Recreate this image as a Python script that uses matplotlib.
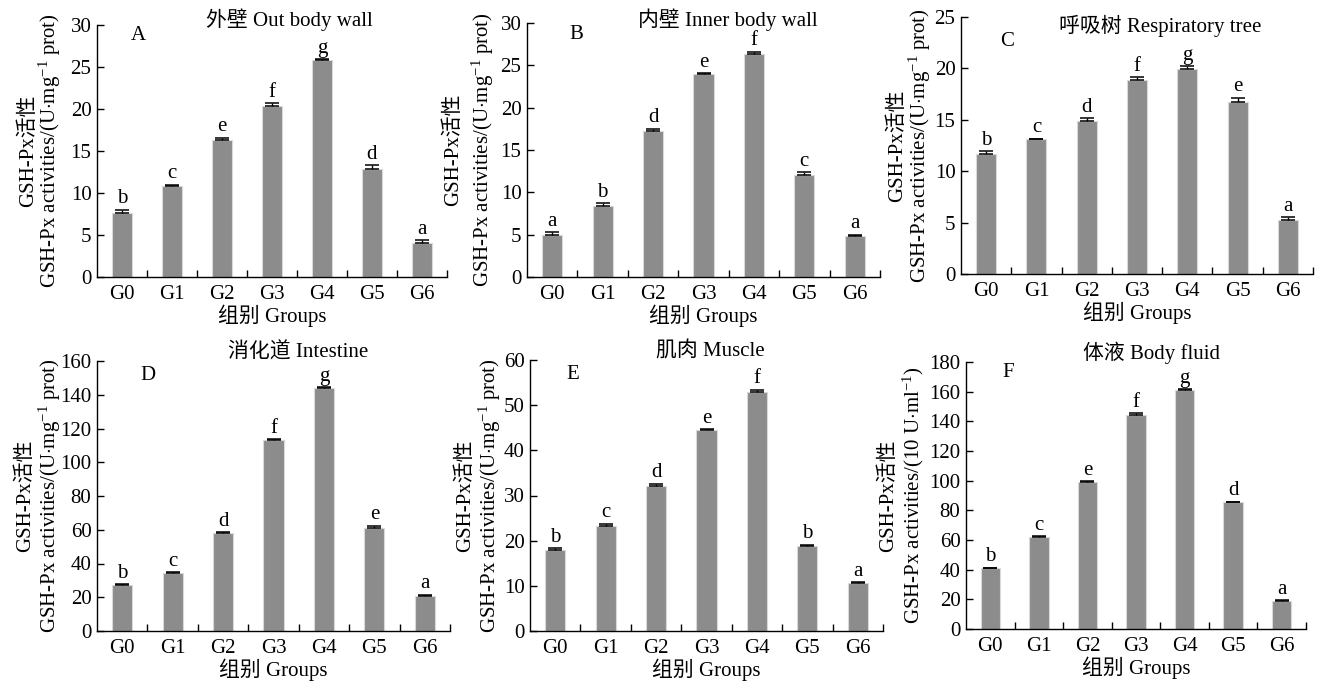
import matplotlib
matplotlib.use("Agg")
import matplotlib.pyplot as plt
import matplotlib.transforms as mtransforms
import numpy as np

plt.rcParams['font.family'] = ['Liberation Serif', 'Noto Sans CJK SC']
plt.rcParams['mathtext.fontset'] = 'custom'
plt.rcParams['mathtext.rm'] = 'Liberation Serif'
plt.rcParams['mathtext.it'] = 'Liberation Serif:italic'
plt.rcParams['axes.unicode_minus'] = False

groups = ['G0', 'G1', 'G2', 'G3', 'G4', 'G5', 'G6']

# values
out_wall = [7.6, 10.8, 16.3, 20.3, 25.8, 12.9, 4.1]
out_wall_err = [0.4, 0.2, 0.3, 0.4, 0.1, 0.4, 0.3]
out_wall_sig = ['b', 'c', 'e', 'f', 'g', 'd', 'a']

inner_wall = [5.0, 8.4, 17.2, 24.0, 26.3, 12.0, 4.9]
inner_wall_err = [0.3, 0.3, 0.3, 0.1, 0.3, 0.4, 0.1]
inner_wall_sig = ['a', 'b', 'd', 'e', 'f', 'c', 'a']

resp_tree = [11.7, 13.1, 14.9, 18.85, 19.9, 16.75, 5.3]
resp_tree_err = [0.25, 0.07, 0.25, 0.3, 0.3, 0.4, 0.2]
resp_tree_sig = ['b', 'c', 'd', 'f', 'g', 'e', 'a']

intestine = [27.0, 34.3, 58.0, 113.0, 143.8, 61.0, 20.8]
intestine_err = [0.8, 0.6, 0.6, 0.6, 0.5, 1.5, 0.6]
intestine_sig = ['b', 'c', 'd', 'f', 'g', 'e', 'a']

muscle = [18.0, 23.3, 32.2, 44.5, 53.0, 18.9, 10.6]
muscle_err = [0.3, 0.5, 0.45, 0.2, 0.45, 0.2, 0.2]
muscle_sig = ['b', 'c', 'd', 'e', 'f', 'b', 'a']

body_fluid = [40.9, 62.2, 99.2, 144.6, 161.3, 85.3, 18.9]
body_fluid_err = [0.5, 0.5, 0.5, 0.7, 0.5, 0.5, 0.5]
body_fluid_sig = ['b', 'c', 'e', 'f', 'g', 'd', 'a']

titles = ['外壁 Out body wall', '内壁 Inner body wall', '呼吸树 Respiratory tree',
          '消化道 Intestine', '肌肉 Muscle', '体液 Body fluid']
letters = ['A', 'B', 'C', 'D', 'E', 'F']
unit_mg = r'GSH-Px activities/(U$\cdot$mg$^{-1}$ prot)'
unit_ml = r'GSH-Px activities/(10 U$\cdot$ml$^{-1}$)'
units = [unit_mg, unit_mg, unit_mg, unit_mg, unit_mg, unit_ml]
y_max = [30, 30, 25, 160, 60, 180]
y_step = [5, 5, 5, 20, 10, 20]

panels = [
    (out_wall, out_wall_err, out_wall_sig),
    (inner_wall, inner_wall_err, inner_wall_sig),
    (resp_tree, resp_tree_err, resp_tree_sig),
    (intestine, intestine_err, intestine_sig),
    (muscle, muscle_err, muscle_sig),
    (body_fluid, body_fluid_err, body_fluid_sig),
]

W, H = 1322, 684
# axes boxes in pixels: left, top, right, bottom
boxes = [(97, 25, 447, 277), (527, 23, 880, 277), (961, 17, 1313, 274),
         (97, 361, 450, 631), (530, 360, 883, 631), (966, 362, 1306, 629)]
title_pos = [(0.55, 1.02), (0.57, 1.012), (0.565, 0.965),
             (0.57, 1.03), (0.51, 1.03), (0.547, 1.035)]
letter_pos = [(0.117, 0.96), (0.139, 0.953), (0.13, 0.903),
              (0.145, 0.948), (0.12, 0.948), (0.124, 0.959)]
ylab_dx = [(-69, -47), (-74, -44), (-64, -41), (-72, -47), (-65, -40), (-78, -53)]

fig = plt.figure(figsize=(W / 100, H / 100), dpi=100)
fs = 15
x = np.arange(len(groups))

for i, (vals, errs, sig) in enumerate(panels):
    l, t, r, b = boxes[i]
    ax = fig.add_axes([l / W, 1 - b / H, (r - l) / W, (b - t) / H])
    vals = np.array(vals)
    errs = np.array(errs)
    ax.bar(x, vals, width=0.4, color='#8c8c8c', edgecolor='#d9d9d9', linewidth=0.8, zorder=2)
    ax.errorbar(x, vals, yerr=[np.zeros_like(errs), errs], fmt='none', ecolor='black',
                elinewidth=1.0, capsize=5, capthick=1.1, zorder=3)
    for xi, v, e, s in zip(x, vals, errs, sig):
        ax.annotate(s, (xi, v + e), xytext=(0, 1), textcoords='offset points',
                    ha='center', va='bottom', fontsize=fs)

    ax.set_xlim(-0.5, len(groups) - 0.5)
    ax.set_ylim(0, y_max[i])
    ax.set_yticks(np.arange(0, y_max[i] + 0.1, y_step[i]))
    ax.set_xticks(x)
    ax.set_xticklabels(groups)
    ax.set_xticks(np.arange(0.5, len(groups), 1.0), minor=True)
    ax.tick_params(axis='x', which='major', length=0, pad=6, labelsize=fs)
    ax.tick_params(axis='x', which='minor', direction='in', length=5, width=1.0)
    ax.tick_params(axis='y', direction='in', length=5, width=1.0, pad=4, labelsize=fs)
    for side in ['top', 'right']:
        ax.spines[side].set_visible(False)
    for side in ['left', 'bottom']:
        ax.spines[side].set_linewidth(1.0)

    ax.set_xlabel('组别 Groups', fontsize=fs, labelpad=0)
    ax.text(title_pos[i][0], title_pos[i][1], titles[i], transform=ax.transAxes,
            ha='center', va='center', fontsize=fs)
    ax.text(letter_pos[i][0], letter_pos[i][1], letters[i], transform=ax.transAxes,
            ha='center', va='center', fontsize=fs)

    for dx, label in zip(ylab_dx[i], ['GSH-Px活性', units[i]]):
        tr = ax.transAxes + mtransforms.ScaledTranslation(dx / 100, 0, fig.dpi_scale_trans)
        ax.text(0, 0.5, label, transform=tr, rotation=90, ha='center', va='center', fontsize=fs)

fig.savefig('out.png', dpi=100)
